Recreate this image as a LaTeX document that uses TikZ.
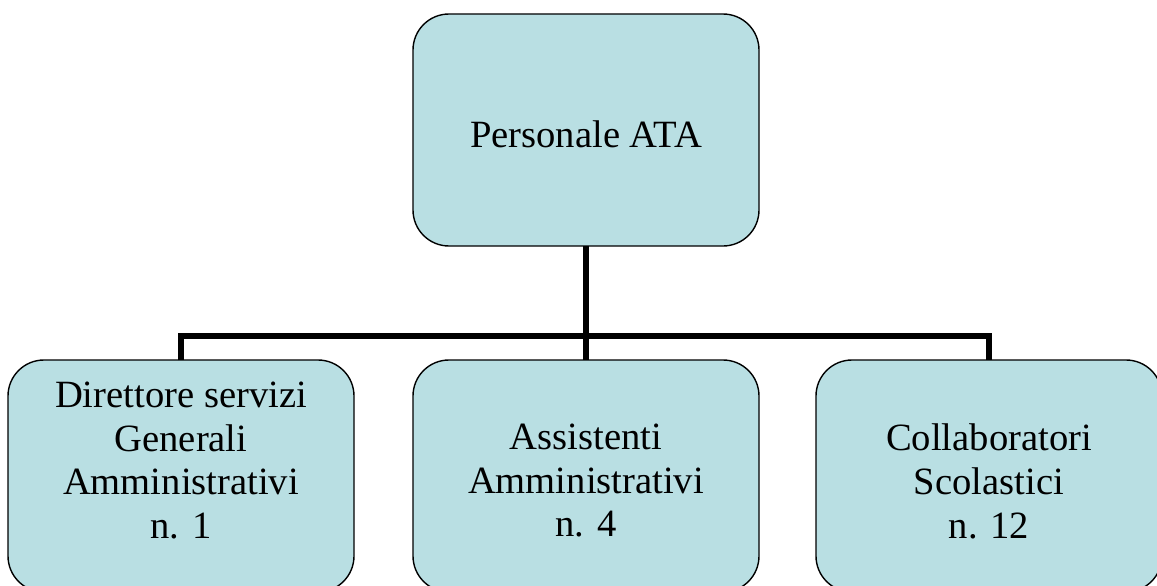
\documentclass[tikz,border=0pt]{standalone}
\usepackage{fontspec}
\setmainfont{Liberation Serif}
\definecolor{boxfill}{RGB}{185,223,227}
\tikzset{
  orgbox/.style={draw=black, line width=1.4pt, fill=boxfill, rounded corners=36pt,
    minimum width=346pt, minimum height=232pt, inner sep=0pt, outer sep=0pt},
  orgtext/.style={font=\fontsize{38.6pt}{43.6pt}\selectfont, align=center, inner sep=0pt, anchor=base},
  link/.style={draw=black, line width=5.8pt, line join=miter}
}
\begin{document}
\begin{tikzpicture}[x=1pt,y=-1pt]
\useasboundingbox (0,0) rectangle (1157,586);
\clip (0,0) rectangle (1157,586);
% boxes
\node[orgbox] (top) at (586,130) {};
\node[orgbox] (left) at (181,476) {};
\node[orgbox] (mid) at (586,476) {};
\node[orgbox] (right) at (989,476) {};
% texts
\node[orgtext] (toptext) at (586,147.5) {Personale ATA};
\node[orgtext, anchor=north] (lefttext) at (181,382) {Direttore servizi\\Generali\\Amministrativi\\n. 1};
\node[orgtext, anchor=north] (midtext) at (586,424) {Assistenti\\Amministrativi\\n. 4};
\node[orgtext, anchor=north] (righttext) at (989,424) {Collaboratori\\Scolastici\\n. 12};
% connectors
\coordinate (bus) at (586,336);
\draw[link] (top.south) -- (mid.north);
\draw[link] (left.north) -- (left.north |- bus) -- (right.north |- bus) -- (right.north);
\end{tikzpicture}
\end{document}
